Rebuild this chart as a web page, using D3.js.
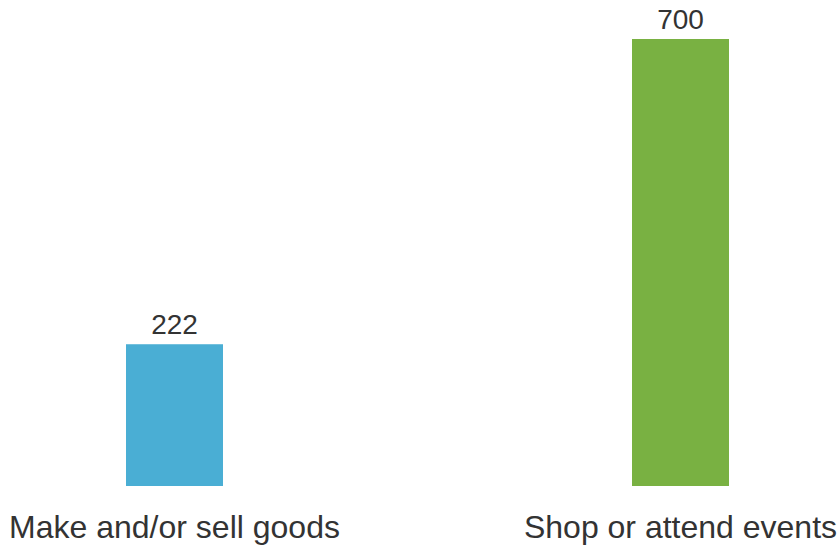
<!DOCTYPE html>
<html>
<head>
<meta charset="utf-8">
<script src="https://cdn.jsdelivr.net/npm/d3@7"></script>
<style>
  html, body { margin: 0; padding: 0; background: #fff; overflow: hidden; }
  svg { display: block; }
  text { font-family: "Liberation Sans", Arial, sans-serif; fill: #333; }
</style>
</head>
<body>
<svg id="chart" width="838" height="548"></svg>
<script>
const categories = ["Make and/or sell goods", "Shop or attend events"];
const values = [222, 700];
const colors = ["#4aaed4", "#79b142"];

const svg = d3.select("#chart");

const x = d3.scaleBand()
    .domain(categories)
    .range([126, 729])
    .paddingInner(0.8083)
    .paddingOuter(0);

const y = d3.scaleLinear()
    .domain([0, 700])
    .range([486, 39]);

const data = categories.map((c, i) => ({ cat: c, val: values[i], color: colors[i] }));

svg.selectAll("rect.bar")
    .data(data)
    .join("rect")
    .attr("class", "bar")
    .attr("x", d => x(d.cat))
    .attr("y", d => y(d.val))
    .attr("width", x.bandwidth())
    .attr("height", d => y(0) - y(d.val))
    .style("fill", d => d.color);

// value labels above bars
svg.selectAll("text.value")
    .data(data)
    .join("text")
    .attr("class", "value")
    .attr("x", d => x(d.cat) + x.bandwidth() / 2)
    .attr("y", d => y(d.val) - 10)
    .attr("text-anchor", "middle")
    .style("font-size", "28px")
    .text(d => d.val);

// category axis, no line or ticks
const xAxis = svg.append("g")
    .attr("transform", `translate(0,${y(0)})`)
    .call(d3.axisBottom(x).tickSize(0).tickPadding(29));

xAxis.select(".domain").remove();
xAxis.selectAll("text")
    .style("font-size", "32px")
    .style("font-family", "'Liberation Sans', Arial, sans-serif")
    .style("fill", "#333");
</script>
</body>
</html>
